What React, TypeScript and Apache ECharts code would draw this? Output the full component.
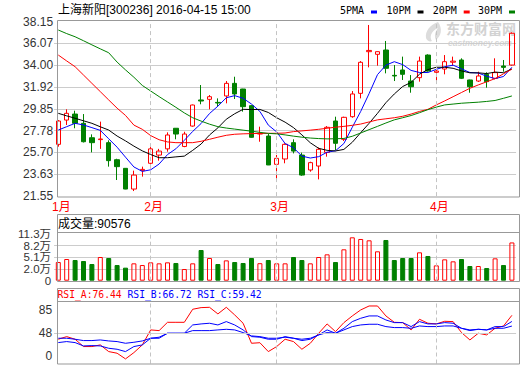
import React, { useEffect, useRef } from "react";
import * as echarts from "echarts";

const dates = [
  "2016-01-15", "2016-01-18", "2016-01-19", "2016-01-20", "2016-01-21", "2016-01-22", "2016-01-25", "2016-01-26", "2016-01-27", "2016-01-28", "2016-01-29",
  "2016-02-01", "2016-02-02", "2016-02-03", "2016-02-04", "2016-02-05", "2016-02-15", "2016-02-16", "2016-02-17", "2016-02-18", "2016-02-19", "2016-02-22", "2016-02-23", "2016-02-24", "2016-02-25", "2016-02-26",
  "2016-03-01", "2016-03-02", "2016-03-03", "2016-03-04", "2016-03-07", "2016-03-08", "2016-03-09", "2016-03-10", "2016-03-11", "2016-03-14", "2016-03-15", "2016-03-16", "2016-03-17", "2016-03-18", "2016-03-21", "2016-03-22", "2016-03-23", "2016-03-24", "2016-03-25",
  "2016-04-01", "2016-04-05", "2016-04-06", "2016-04-07", "2016-04-08", "2016-04-11", "2016-04-12", "2016-04-13", "2016-04-14", "2016-04-15",
];

const opens = [26.47, 28.78, 29.35, 28.47, 27.10, 26.92, 26.63, 25.01, 24.19, 22.22, 23.97, 24.67, 25.45, 26.04, 28.00, 26.27, 28.21, 30.69, 30.75, 30.46, 31.07, 32.27, 31.73, 30.15, 27.45, 27.26, 24.57, 25.08, 26.63, 25.45, 24.03, 24.41, 25.71, 28.69, 26.95, 29.10, 31.32, 35.28, 35.03, 35.44, 33.03, 33.54, 32.49, 32.81, 34.96, 33.32, 33.63, 34.28, 34.49, 32.59, 32.49, 33.13, 32.75, 33.92, 34.01];
const closes = [28.69, 29.42, 28.47, 26.72, 26.63, 26.98, 24.92, 24.35, 22.22, 23.55, 24.09, 26.04, 25.83, 27.36, 27.45, 27.45, 30.21, 30.59, 31.00, 30.40, 32.27, 31.26, 30.05, 27.14, 27.52, 24.51, 25.14, 26.47, 25.83, 23.55, 24.73, 26.00, 28.09, 26.57, 29.04, 31.26, 34.27, 35.40, 35.28, 33.70, 32.97, 33.13, 31.95, 34.39, 33.44, 33.44, 34.33, 34.38, 32.75, 31.95, 32.97, 32.43, 33.29, 33.79, 37.03];
const lows = [26.25, 28.31, 28.00, 26.65, 25.71, 26.04, 24.35, 23.08, 22.20, 22.03, 23.40, 24.19, 24.92, 25.77, 26.95, 26.20, 28.15, 30.28, 29.80, 30.05, 30.37, 30.78, 29.58, 27.10, 26.72, 24.50, 23.08, 24.67, 25.61, 23.48, 23.87, 23.14, 25.30, 25.93, 26.79, 29.00, 30.84, 33.79, 33.95, 33.22, 32.49, 32.59, 31.38, 32.43, 33.38, 32.27, 33.13, 33.95, 32.68, 31.38, 32.40, 31.86, 32.65, 33.38, 33.95];
const highs = [28.78, 29.80, 29.67, 29.35, 27.42, 28.63, 26.85, 25.10, 24.22, 23.97, 24.35, 26.27, 26.04, 27.61, 28.02, 27.67, 30.25, 32.11, 31.16, 30.84, 32.49, 32.90, 31.75, 30.20, 28.15, 27.45, 25.46, 26.57, 26.95, 25.68, 24.82, 26.17, 28.21, 29.10, 29.10, 31.54, 34.39, 37.82, 35.30, 36.30, 34.01, 34.81, 33.06, 34.81, 35.03, 33.54, 34.96, 34.81, 34.65, 32.62, 33.38, 33.32, 34.65, 34.49, 37.12];

const ma5 = [27.83, 28.15, 28.47, 28.31, 28.06, 27.80, 27.00, 26.20, 25.25, 24.32, 23.90, 24.05, 24.60, 25.50, 26.05, 26.85, 27.70, 28.45, 29.40, 30.10, 30.90, 31.10, 30.85, 30.30, 29.60, 28.30, 27.65, 26.55, 26.15, 25.35, 25.17, 25.30, 25.72, 25.86, 26.55, 28.10, 29.60, 31.30, 33.10, 34.00, 34.33, 34.05, 33.50, 33.30, 33.30, 33.60, 33.85, 34.00, 33.65, 33.30, 33.25, 32.95, 32.72, 32.92, 33.80];
const ma10 = [29.42, 29.18, 28.95, 28.71, 28.47, 28.14, 27.83, 27.26, 26.80, 26.30, 25.85, 25.50, 25.20, 25.20, 25.28, 25.35, 25.90, 26.50, 27.36, 28.04, 28.86, 29.38, 29.80, 29.78, 29.79, 29.50, 29.00, 28.58, 28.06, 27.37, 26.62, 26.09, 25.90, 25.84, 25.99, 26.67, 27.58, 28.47, 29.42, 30.43, 31.26, 31.97, 32.36, 33.14, 33.58, 33.80, 33.80, 33.70, 33.45, 33.27, 33.27, 33.20, 33.34, 33.28, 33.64];
const ma20 = [34.96, 34.40, 33.85, 33.06, 32.27, 31.48, 30.69, 29.91, 29.22, 28.30, 27.90, 27.30, 26.91, 26.70, 26.63, 26.63, 26.63, 26.76, 26.95, 27.15, 27.33, 27.43, 27.47, 27.49, 27.51, 27.52, 27.52, 27.55, 27.68, 27.75, 27.82, 27.90, 28.00, 28.10, 28.18, 28.28, 28.40, 28.60, 28.80, 28.90, 29.00, 29.14, 29.35, 29.60, 29.80, 30.22, 30.60, 31.00, 31.40, 31.80, 32.12, 32.42, 32.72, 33.18, 33.62];
const ma30 = [37.34, 37.00, 36.70, 36.32, 35.93, 35.55, 35.18, 34.29, 33.55, 32.85, 32.07, 31.54, 31.01, 30.50, 29.99, 29.46, 29.00, 28.68, 28.39, 28.15, 28.02, 27.92, 27.82, 27.72, 27.61, 27.51, 27.47, 27.37, 27.25, 27.15, 27.07, 27.02, 26.99, 27.00, 27.03, 27.24, 27.55, 27.87, 28.18, 28.50, 28.80, 29.00, 29.21, 29.48, 29.77, 30.01, 30.22, 30.30, 30.38, 30.43, 30.48, 30.55, 30.64, 30.85, 31.07];

// 成交量 (手)
const volumes = [38600, 46600, 43900, 41300, 33300, 51900, 49200, 30600, 23600, 35100, 30600, 37700, 35100, 37700, 36000, 20000, 35100, 70500, 49200, 33300, 43000, 38600, 36000, 49200, 35500, 43900, 35100, 35100, 51900, 43900, 35100, 51900, 59000, 38600, 72300, 104200, 99800, 96200, 67000, 97100, 43900, 49200, 49200, 64300, 54600, 29700, 45700, 40400, 46600, 28000, 28000, 22700, 48400, 30600, 90576];

const rsiA = [38.5, 42.7, 38.5, 26.9, 26.9, 29.5, 18.9, 16.3, 7.3, 17.3, 29.5, 53.3, 52.2, 65.4, 65.4, 65.4, 86.1, 88.7, 89.2, 78.7, 89.2, 77.1, 63.9, 32.1, 33.0, 18.9, 26.9, 38.5, 34.8, 22.6, 32.1, 48.0, 62.8, 50.6, 64.9, 75.5, 85.0, 91.3, 91.3, 75.5, 65.4, 64.9, 53.3, 70.2, 63.9, 62.8, 67.0, 66.5, 49.1, 37.4, 48.0, 45.4, 55.9, 59.6, 76.44];
const rsiB = [33.2, 34.8, 33.2, 27.9, 28.4, 27.9, 24.2, 22.6, 18.9, 26.9, 29.5, 40.1, 40.1, 48.0, 48.0, 48.0, 61.2, 62.8, 63.9, 61.2, 66.5, 61.2, 53.3, 42.7, 41.7, 38.5, 38.5, 42.7, 40.1, 36.4, 38.5, 45.4, 53.3, 48.0, 55.9, 66.5, 71.8, 75.5, 75.5, 69.1, 64.9, 64.9, 58.6, 66.5, 62.8, 62.8, 64.9, 63.9, 55.9, 52.2, 54.3, 53.3, 58.6, 58.6, 66.72];
const rsiC = [40.1, 40.1, 38.5, 36.4, 36.4, 37.4, 35.8, 34.8, 32.1, 33.7, 35.8, 40.1, 41.7, 48.0, 48.0, 48.0, 52.2, 52.2, 52.2, 53.3, 54.3, 53.3, 49.1, 43.8, 42.7, 40.1, 40.1, 41.7, 40.1, 38.5, 40.1, 45.4, 49.1, 48.0, 53.3, 58.6, 61.2, 62.3, 62.3, 58.6, 57.0, 57.0, 55.9, 59.6, 58.6, 58.6, 59.6, 59.6, 55.9, 53.3, 54.3, 53.3, 55.9, 55.9, 59.42];

const priceTickLabels = ["21.55", "23.63", "25.70", "27.78", "29.85", "31.92", "34.00", "36.07", "38.15"];
const PRICE_MIN = 21.55;
const PRICE_MAX = 38.15;
const PRICE_STEP = 2.075;

const volTickLabels = ["0", "2.0万", "5.1万", "8.2万", "11.3万"];
const VOL_AXIS_BASE = -11000; // value at the bottom of the volume panel
const VOL_STEP = 31000;

const rsiTicks = [0, 48, 85];

const title = "上海新阳[300236] 2016-04-15 15:00";
const maNames = ["5PMA", "10PM", "20PM", "30PM"];
const maColors = ["#0000ff", "#000000", "#ff0000", "#008000"];

const RED = "#ff0000";
const GREEN = "#008000";
const FONT = "'Liberation Sans', 'Noto Sans CJK SC', sans-serif";
const MONO = "'DejaVu Sans Mono', 'Liberation Mono', monospace";

const GRID_LEFT = 54.1;
const GRID_WIDTH = 462;

export default function App() {
  const ref = useRef<HTMLDivElement>(null);

  useEffect(() => {
    document.body.style.margin = "0";
    if (!ref.current) return;
    const chart = echarts.init(ref.current, undefined, { renderer: "svg" });

    const monthLabel = (i: number) => {
      if (i === 0 || dates[i].slice(5, 7) !== dates[i - 1].slice(5, 7)) {
        return parseInt(dates[i].slice(5, 7), 10) + "月";
      }
      return "";
    };
    const monthStarts = dates.filter((d, i) => i > 0 && d.slice(5, 7) !== dates[i - 1].slice(5, 7));
    const monthLineData = monthStarts.map((d) => ({ xAxis: d }));
    const dashStyle = { color: "#c4c4c4", type: [4, 3] as any, width: 1 };

    const candleData = dates.map((_, i) => [opens[i], closes[i], lows[i], highs[i]]);
    const volData = volumes.map((v, i) => {
      const up = closes[i] >= opens[i];
      return {
        value: v - VOL_AXIS_BASE,
        itemStyle: up
          ? { color: "rgba(255,255,255,0)", borderColor: RED, borderWidth: 1 }
          : { color: GREEN, borderColor: GREEN, borderWidth: 1 },
      };
    });

    const last = dates.length - 1;
    const axisLabelBase = { fontFamily: FONT, fontSize: 12, color: "#333" };

    const legendEls: any[] = [];
    const legendX = [340, 386.5, 432.7, 478];
    maNames.forEach((n, k) => {
      legendEls.push({
        type: "text",
        x: legendX[k],
        y: 10,
        style: { text: n, fontFamily: MONO, fontSize: 10, fill: "#000", verticalAlign: "middle" },
      });
      legendEls.push({
        type: "rect",
        shape: { x: legendX[k] + 31, y: 10.5, width: 6, height: 3 },
        style: { fill: maColors[k] },
      });
    });

    echarts.graphic.registerShape(
      "logo",
      echarts.graphic.extendPath(
        "M14 0 C6 3 1 9 2 16 C3 19 6 20 8 19 C5 15 7 9 14 6 C11 10 10 14 12 18 C17 14 19 7 14 0 Z",
        {}
      )
    );

    const option: any = {
      animation: false,
      backgroundColor: "#ffffff",
      grid: [
        { left: GRID_LEFT, width: GRID_WIDTH, top: 21.5, height: 174.6 },
        { left: GRID_LEFT, width: GRID_WIDTH, top: 234, height: 46.7 },
        { left: GRID_LEFT, width: GRID_WIDTH, top: 300.5, height: 63 },
      ],
      xAxis: [
        {
          type: "category",
          gridIndex: 0,
          data: dates,
          boundaryGap: true,
          axisLine: { show: false },
          axisTick: { show: false },
          splitLine: { show: false },
          axisLabel: {
            interval: 0,
            margin: 5,
            color: RED,
            fontFamily: FONT,
            fontSize: 12,
            padding: [0, 0, 0, 6],
            formatter: (_v: string, i: number) => monthLabel(i),
          },
        },
        { type: "category", gridIndex: 1, data: dates, boundaryGap: true, show: false },
        { type: "category", gridIndex: 2, data: dates, boundaryGap: true, show: false },
      ],
      yAxis: [
        {
          type: "value",
          gridIndex: 0,
          min: PRICE_MIN,
          max: PRICE_MAX,
          interval: PRICE_STEP,
          axisLine: { show: false },
          axisTick: { show: false },
          splitLine: { show: true, showMinLine: false, showMaxLine: false, lineStyle: { color: "#cccccc", width: 1 } },
          axisLabel: {
            ...axisLabelBase,
            margin: 1,
            showMinLabel: true,
            showMaxLabel: true,
            formatter: (v: number) => priceTickLabels[Math.round((v - PRICE_MIN) / PRICE_STEP)] ?? "",
          },
        },
        {
          type: "value",
          gridIndex: 1,
          min: 0,
          max: VOL_STEP * 4,
          interval: VOL_STEP,
          axisLine: { show: false },
          axisTick: { show: false },
          splitLine: { show: true, showMinLine: false, showMaxLine: false, lineStyle: { color: "#cccccc", width: 1 } },
          axisLabel: {
            fontFamily: FONT,
            fontSize: 11.5,
            lineHeight: 11,
            color: "#333",
            margin: 3,
            showMinLabel: true,
            showMaxLabel: true,
            hideOverlap: false,
            formatter: (v: number) => volTickLabels[Math.round(v / VOL_STEP)] ?? "",
          },
        },
        {
          type: "value",
          gridIndex: 2,
          min: 0,
          max: 100,
          axisLine: { show: false },
          axisTick: { show: false },
          splitLine: { show: false },
          axisLabel: {
            ...axisLabelBase,
            margin: 2,
            showMinLabel: true,
            showMaxLabel: true,
            customValues: rsiTicks,
            formatter: (v: number) => (v === 0 ? "{z|0}" : String(v)),
            rich: { z: { fontFamily: FONT, fontSize: 12, color: "#333", padding: [0, 0, 16, 0] } },
          },
        },
      ],
      series: [
        {
          type: "candlestick",
          name: "K",
          xAxisIndex: 0,
          yAxisIndex: 0,
          data: candleData,
          barWidth: 5,
          itemStyle: {
            color: "rgba(255,255,255,0)",
            color0: GREEN,
            borderColor: RED,
            borderColor0: GREEN,
            borderWidth: 1,
          },
          markLine: {
            silent: true,
            symbol: ["none", "none"],
            label: { show: false },
            lineStyle: dashStyle,
            data: monthLineData,
          },
        },
        ...[ma5, ma10, ma20, ma30].map((d, k) => ({
          type: "line",
          name: maNames[k],
          xAxisIndex: 0,
          yAxisIndex: 0,
          data: d,
          symbol: "none",
          lineStyle: { color: maColors[k], width: 1 },
          z: 4,
        })),
        {
          type: "bar",
          name: "成交量",
          xAxisIndex: 1,
          yAxisIndex: 1,
          data: volData,
          barWidth: 5,
          markLine: {
            silent: true,
            symbol: ["none", "none"],
            label: { show: false },
            lineStyle: dashStyle,
            data: monthLineData,
          },
        },
        {
          type: "line",
          name: "RSI_A",
          xAxisIndex: 2,
          yAxisIndex: 2,
          data: rsiA,
          symbol: "none",
          lineStyle: { color: RED, width: 1 },
          z: 4,
          markLine: {
            silent: true,
            symbol: ["none", "none"],
            label: { show: false },
            lineStyle: dashStyle,
            data: [
              ...monthLineData,
              { yAxis: 48, lineStyle: { color: "#cccccc", type: "solid", width: 1 } },
            ],
          },
        },
        {
          type: "line",
          name: "RSI_B",
          xAxisIndex: 2,
          yAxisIndex: 2,
          data: rsiB,
          symbol: "none",
          lineStyle: { color: "#0000ff", width: 1 },
          z: 4,
        },
        {
          type: "line",
          name: "RSI_C",
          xAxisIndex: 2,
          yAxisIndex: 2,
          data: rsiC,
          symbol: "none",
          lineStyle: { color: "#0000ff", width: 1 },
          z: 4,
        },
      ],
      graphic: [
        // watermark
        { type: "logo", x: 424, y: 22, scaleX: 1, scaleY: 1, z: 0, style: { fill: "#dcdcdc" } },
        {
          type: "text",
          x: 446,
          y: 28,
          z: 0,
          style: { text: "东方财富网", fontFamily: "'Noto Sans CJK SC', sans-serif", fontSize: 14, lineHeight: 14, fontWeight: "bold", fill: "#d2d2d2", verticalAlign: "middle" },
        },
        {
          type: "text",
          x: 448,
          y: 42.5,
          z: 0,
          style: { text: "eastmoney.com", fontFamily: FONT, fontSize: 8.5, lineHeight: 8.5, fontWeight: "bold", fontStyle: "italic", fill: "#d6d6d6", verticalAlign: "middle" },
        },
        // frames
        { type: "rect", z: 10, shape: { x: 57.5, y: 20.5, width: 462, height: 176.5 }, style: { fill: "none", stroke: "#999", lineWidth: 1 } },
        { type: "rect", z: 10, shape: { x: 57.5, y: 214.5, width: 462, height: 67 }, style: { fill: "none", stroke: "#999", lineWidth: 1 } },
        { type: "line", z: 10, shape: { x1: 57.5, y1: 232.5, x2: 519.5, y2: 232.5 }, style: { stroke: "#999", lineWidth: 1 } },
        { type: "rect", z: 10, shape: { x: 57.5, y: 288.5, width: 462, height: 75.5 }, style: { fill: "none", stroke: "#999", lineWidth: 1 } },
        { type: "line", z: 10, shape: { x1: 57.5, y1: 301.5, x2: 519.5, y2: 301.5 }, style: { stroke: "#999", lineWidth: 1 } },
        // title
        {
          type: "text",
          x: 58,
          y: 9.5,
          style: { text: title, fontFamily: FONT, fontSize: 12, fill: "#000", verticalAlign: "middle" },
        },
        ...legendEls,
        // volume header
        {
          type: "text",
          x: 58,
          y: 223.5,
          style: { text: "成交量:" + volumes[last], fontFamily: FONT, fontSize: 12, fill: "#000", verticalAlign: "middle" },
        },
        // RSI header
        {
          type: "text",
          x: 57.5,
          y: 294.5,
          style: {
            text:
              "{a|RSI_A:" + rsiA[last].toFixed(2) + "} {b|RSI_B:" + rsiB[last].toFixed(2) + "} {b|RSI_C:" + rsiC[last].toFixed(2) + "}",
            fontFamily: MONO,
            fontSize: 9.7,
            verticalAlign: "middle",
            rich: {
              a: { fill: RED, fontFamily: MONO, fontSize: 9.7 },
              b: { fill: "#0000ff", fontFamily: MONO, fontSize: 9.7 },
            },
          },
        },
      ],
    };

    chart.setOption(option);
    return () => chart.dispose();
  }, []);

  return <div ref={ref} style={{ width: 520, height: 365 }} />;
}
